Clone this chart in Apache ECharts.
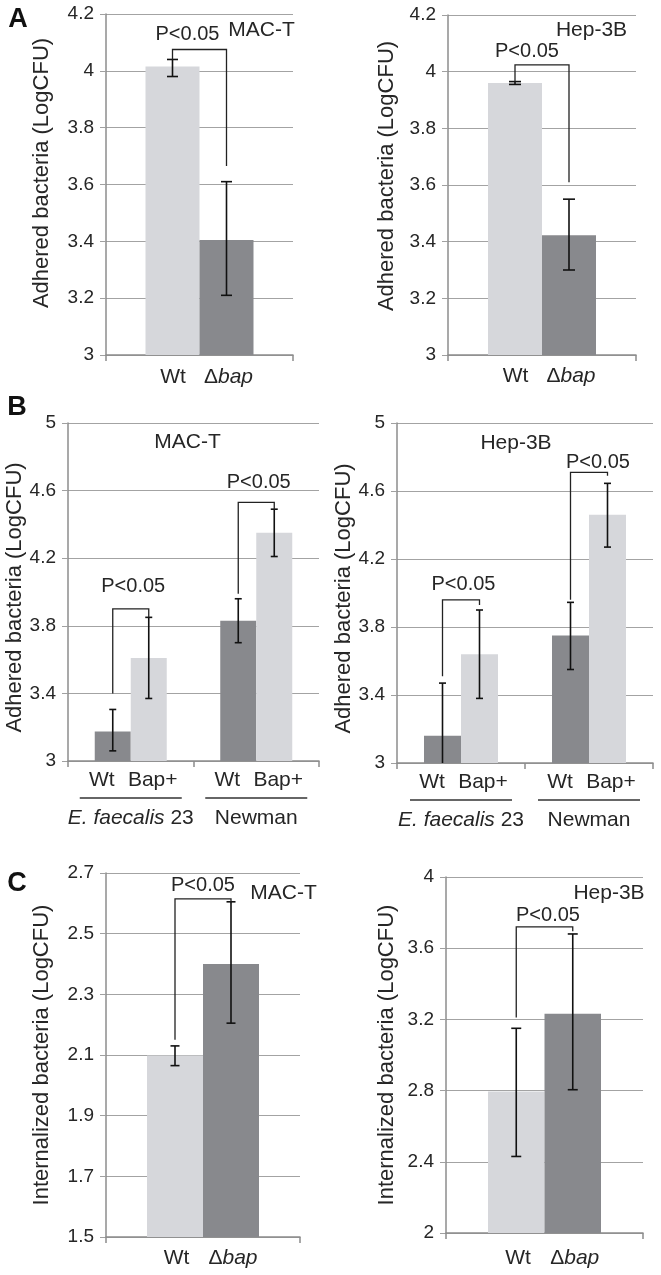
<!DOCTYPE html>
<html><head><meta charset="utf-8">
<script src="https://cdn.jsdelivr.net/npm/echarts@6/dist/echarts.min.js"></script>
<style>html,body{margin:0;padding:0;background:#fff}#c{width:661px;height:1275px}</style>
</head><body><div id="c"></div>
<script>
// ---------------- DATA ----------------
const strainsAC = ['Wt', 'Δbap'];
const strainsB = ['Wt', 'Bap+'];
const groupsB = ['E. faecalis 23', 'Newman'];
const singleCat = [''];

const ticksA = [3, 3.2, 3.4, 3.6, 3.8, 4, 4.2];
const ticksB = [3, 3.4, 3.8, 4.2, 4.6, 5];
const ticksCmac = [1.5, 1.7, 1.9, 2.1, 2.3, 2.5, 2.7];
const ticksChep = [2, 2.4, 2.8, 3.2, 3.6, 4];

// Panel A, MAC-T  (order: Wt, Δbap)
const aMacValues = [4.015, 3.405];
const aMacErrLow = [3.98, 3.21];
const aMacErrHigh = [4.04, 3.61];
const aMacBracket = [4.04, 4.075, 3.665];      // left foot, top, right foot
// Panel A, Hep-3B
const aHepValues = [3.96, 3.423];
const aHepErrLow = [3.955, 3.30];
const aHepErrHigh = [3.965, 3.55];
const aHepBracket = [3.965, 4.024, 3.61];

// Panel B, MAC-T  (per group: E. faecalis 23, Newman)
const bMacWt = [3.175, 3.83];
const bMacWtLow = [3.06, 3.70];
const bMacWtHigh = [3.305, 3.96];
const bMacBap = [3.61, 4.35];
const bMacBapLow = [3.37, 4.21];
const bMacBapHigh = [3.85, 4.49];
const bMacBrackets = [[3.40, 3.90, 3.85], [3.99, 4.53, 4.49]];
// Panel B, Hep-3B
const bHepWt = [3.16, 3.75];
const bHepWtLow = [2.85, 3.55];
const bHepWtHigh = [3.47, 3.945];
const bHepBap = [3.64, 4.46];
const bHepBapLow = [3.38, 4.27];
const bHepBapHigh = [3.90, 4.645];
const bHepBrackets = [[3.51, 3.96, 3.93], [3.96, 4.71, 4.69]];

// Panel C, MAC-T
const cMacValues = [2.098, 2.40];
const cMacErrLow = [2.065, 2.205];
const cMacErrHigh = [2.13, 2.605];
const cMacBracket = [2.15, 2.615, 2.60];
// Panel C, Hep-3B
const cHepValues = [2.795, 3.232];
const cHepErrLow = [2.43, 2.805];
const cHepErrHigh = [3.15, 3.68];
const cHepBracket = [3.21, 3.72, 3.695];

const pLabel = 'P<0.05';
// --------------------------------------

const LIGHT = '#d6d7db', DARK = '#88898d';
const FONT = "'Liberation Sans', Arial, sans-serif";
const TXT = '#262626';

function strainRich(name) {
  if (name.charAt(0) === 'Δ') return '{d|Δ}{i|' + name.slice(1) + '}';
  return name;
}

const panels = [
  { grid: {left:106, top:14, width:187, height:341}, ticks: ticksA, cats: singleCat, bw: 54, cap: 5.5,
    series: [
      {name: strainsAC[0], color: LIGHT, values: [aMacValues[0]], lo: [aMacErrLow[0]], hi: [aMacErrHigh[0]]},
      {name: strainsAC[1], color: DARK, values: [aMacValues[1]], lo: [aMacErrLow[1]], hi: [aMacErrHigh[1]]}],
    brackets: [[0, 0, 1].concat(aMacBracket)], pOff: [[-12, 15]],
    yName: 'Adhered bacteria (LogCFU)', nameGap: 53, namePad: [0,0,0,23], labelMargin: 12, type: 'AC' },
  { grid: {left:448, top:15, width:188, height:340}, ticks: ticksA, cats: singleCat, bw: 54, cap: 6,
    series: [
      {name: strainsAC[0], color: LIGHT, values: [aHepValues[0]], lo: [aHepErrLow[0]], hi: [aHepErrHigh[0]]},
      {name: strainsAC[1], color: DARK, values: [aHepValues[1]], lo: [aHepErrLow[1]], hi: [aHepErrHigh[1]]}],
    brackets: [[0, 0, 1].concat(aHepBracket)], pOff: [[-15, 13]],
    yName: 'Adhered bacteria (LogCFU)', nameGap: 50, namePad: [0,0,0,18], labelMargin: 11, type: 'AC' },
  { grid: {left:68, top:423, width:251, height:338}, ticks: ticksB, cats: groupsB, bw: 36, cap: 3.5,
    series: [
      {name: strainsB[0], color: DARK, values: bMacWt, lo: bMacWtLow, hi: bMacWtHigh},
      {name: strainsB[1], color: LIGHT, values: bMacBap, lo: bMacBapLow, hi: bMacBapHigh}],
    brackets: [[0, 0, 1].concat(bMacBrackets[0]), [1, 0, 1].concat(bMacBrackets[1])], pOff: [[2.5, 22], [2.5, 20]],
    yName: 'Adhered bacteria (LogCFU)', nameGap: 39, namePad: [0,11,0,0], labelMargin: 8, type: 'B' },
  { grid: {left:397, top:423, width:256, height:340}, ticks: ticksB, cats: groupsB, bw: 37, cap: 3.5,
    series: [
      {name: strainsB[0], color: DARK, values: bHepWt, lo: bHepWtLow, hi: bHepWtHigh},
      {name: strainsB[1], color: LIGHT, values: bHepBap, lo: bHepBapLow, hi: bHepBapHigh}],
    brackets: [[0, 0, 1].concat(bHepBrackets[0]), [1, 0, 1].concat(bHepBrackets[1])], pOff: [[2.5, 15], [9, 10]],
    yName: 'Adhered bacteria (LogCFU)', nameGap: 38, namePad: [0,11,0,0], labelMargin: 8, type: 'B' },
  { grid: {left:106, top:873, width:194, height:364}, ticks: ticksCmac, cats: singleCat, bw: 56, cap: 4.5,
    series: [
      {name: strainsAC[0], color: LIGHT, values: [cMacValues[0]], lo: [cMacErrLow[0]], hi: [cMacErrHigh[0]]},
      {name: strainsAC[1], color: DARK, values: [cMacValues[1]], lo: [cMacErrLow[1]], hi: [cMacErrHigh[1]]}],
    brackets: [[0, 0, 1].concat(cMacBracket)], pOff: [[0, 13]],
    yName: 'Internalized bacteria (LogCFU)', nameGap: 53, namePad: [0,0,0,0], labelMargin: 11, type: 'AC' },
  { grid: {left:446, top:877, width:197, height:356}, ticks: ticksChep, cats: singleCat, bw: 56.5, cap: 5,
    series: [
      {name: strainsAC[0], color: LIGHT, values: [cHepValues[0]], lo: [cHepErrLow[0]], hi: [cHepErrHigh[0]]},
      {name: strainsAC[1], color: DARK, values: [cHepValues[1]], lo: [cHepErrLow[1]], hi: [cHepErrHigh[1]]}],
    brackets: [[0, 0, 1].concat(cHepBracket)], pOff: [[3.5, 11]],
    yName: 'Internalized bacteria (LogCFU)', nameGap: 48, namePad: [0,0,0,0], labelMargin: 15, type: 'AC' }
];

const option = {
  animation: false,
  backgroundColor: '#fff',
  textStyle: {fontFamily: FONT, color: TXT},
  grid: [], xAxis: [], yAxis: [], series: [],
  graphic: []
};

panels.forEach((p, i) => {
  option.grid.push(Object.assign({show: false}, p.grid));
  const n = p.series.length;
  let xLabel;
  if (p.type === 'AC') {
    xLabel = {
      show: true, margin: p.labelMargin, fontSize: 21, color: TXT, fontFamily: FONT,
      formatter: () => '{w|' + p.series[0].name + '}{g|}' + strainRich(p.series[1].name),
      rich: {
        w: {width: p.bw, align: 'center', fontSize: 21, color: TXT, fontFamily: FONT},
        g: {width: 4},
        d: {fontSize: 21, color: TXT, fontFamily: FONT},
        i: {fontSize: 21, fontStyle: 'italic', color: TXT, fontFamily: FONT}
      }
    };
  } else {
    xLabel = {
      show: true, margin: p.labelMargin, fontSize: 21, color: TXT, fontFamily: FONT, interval: 0,
      formatter: (v) => {
        const sp = v.indexOf(' 23');
        const name = sp > 0 ? '{i|' + v.slice(0, sp) + '}{n|' + v.slice(sp) + '}' : '{n|' + v + '}';
        return '{w|' + p.series[0].name + '}{b|' + p.series[1].name + '}\n{u|}\n' + name;
      },
      rich: {
        w: {width: 44, align: 'center', fontSize: 21, lineHeight: 22, color: TXT, fontFamily: FONT},
        b: {width: 58, align: 'center', fontSize: 21, lineHeight: 22, color: TXT, fontFamily: FONT},
        u: {width: 102, height: 1.4, lineHeight: 14, backgroundColor: '#333'},
        i: {fontSize: 21, lineHeight: 26, fontStyle: 'italic', color: TXT, fontFamily: FONT},
        n: {fontSize: 21, lineHeight: 26, color: TXT, fontFamily: FONT}
      }
    };
  }
  option.xAxis.push({
    type: 'category', gridIndex: i, data: p.cats,
    axisLine: {show: true, lineStyle: {color: '#8c8c8c', width: 1.5}},
    axisTick: {show: true, length: 6, lineStyle: {color: '#8c8c8c', width: 1.5}},
    axisLabel: xLabel, splitLine: {show: false}
  });
  const t = p.ticks;
  option.yAxis.push({
    type: 'value', gridIndex: i, min: t[0], max: t[t.length - 1],
    interval: +(t[1] - t[0]).toFixed(4),
    name: p.yName, nameLocation: 'middle', nameGap: p.nameGap,
    nameTextStyle: {fontSize: 22, color: TXT, fontFamily: FONT, padding: p.namePad},
    axisLine: {show: true, lineStyle: {color: '#8c8c8c', width: 1.5}},
    axisTick: {show: true, length: 6, lineStyle: {color: '#a0a0a0'}},
    axisLabel: {fontSize: 19, color: TXT, fontFamily: FONT, margin: 12,
      formatter: (v) => String(+v.toFixed(2))},
    splitLine: {show: true, lineStyle: {color: '#a3a3a3', width: 1.2}}
  });
  // bars
  p.series.forEach((s) => {
    option.series.push({
      type: 'bar', name: s.name, xAxisIndex: i, yAxisIndex: i,
      data: s.values, barWidth: p.bw, barGap: '0%',
      itemStyle: {color: s.color}, z: 2
    });
  });
  // error bars
  const errData = [];
  p.series.forEach((s, si) => {
    s.values.forEach((v, ci) => errData.push([ci, si, s.lo[ci], s.hi[ci]]));
  });
  option.series.push({
    type: 'custom', xAxisIndex: i, yAxisIndex: i, clip: true, z: 5,
    encode: {x: 0, y: [2, 3]},
    data: errData,
    renderItem: (params, api) => {
      const ci = api.value(0), si = api.value(1);
      const a = api.coord([ci, api.value(2)]);
      const b = api.coord([ci, api.value(3)]);
      const x = a[0] + (si - (n - 1) / 2) * p.bw;
      const st = {stroke: '#111', lineWidth: 1.6};
      const c = p.cap;
      return {type: 'group', children: [
        {type: 'line', shape: {x1: x, y1: a[1], x2: x, y2: b[1]}, style: st},
        {type: 'line', shape: {x1: x - c, y1: a[1], x2: x + c, y2: a[1]}, style: st},
        {type: 'line', shape: {x1: x - c, y1: b[1], x2: x + c, y2: b[1]}, style: st}
      ]};
    }
  });
  // significance brackets
  option.series.push({
    type: 'custom', xAxisIndex: i, yAxisIndex: i, clip: false, z: 6,
    encode: {x: 0, y: [3, 4, 5]},
    data: p.brackets,
    renderItem: (params, api) => {
      const ci = api.value(0), sl = api.value(1), sr = api.value(2);
      const L = api.coord([ci, api.value(3)]);
      const T = api.coord([ci, api.value(4)]);
      const R = api.coord([ci, api.value(5)]);
      const xl = L[0] + (sl - (n - 1) / 2) * p.bw;
      const xr = L[0] + (sr - (n - 1) / 2) * p.bw;
      const off = p.pOff[params.dataIndex];
      return {type: 'group', children: [
        {type: 'polyline', shape: {points: [[xl, L[1]], [xl, T[1]], [xr, T[1]], [xr, R[1]]]},
          style: {stroke: '#222', lineWidth: 1.3, fill: null}},
        {type: 'text', x: (xl + xr) / 2 + off[0], y: T[1] - off[1],
          style: {text: pLabel, fill: TXT, font: '20px ' + FONT, textAlign: 'center', textVerticalAlign: 'middle'}}
      ]};
    }
  });
});

// panel letters and cell-line labels
const letters = [['A', 18, 20], ['B', 17, 408], ['C', 17, 884]];
letters.forEach(l => option.graphic.push({type: 'text', x: l[1], y: l[2],
  style: {text: l[0], fill: '#111', font: 'bold 27px ' + FONT, textAlign: 'center', textVerticalAlign: 'middle'}}));
const cellLabels = [['MAC-T', 261.5, 30], ['Hep-3B', 591.5, 30], ['MAC-T', 187.5, 442], ['Hep-3B', 516, 443], ['MAC-T', 283.5, 893], ['Hep-3B', 609, 893]];
cellLabels.forEach(l => option.graphic.push({type: 'text', x: l[1], y: l[2],
  style: {text: l[0], fill: TXT, font: '21px ' + FONT, textAlign: 'center', textVerticalAlign: 'middle'}}));

const chart = echarts.init(document.getElementById('c'), null, {renderer: 'canvas'});
chart.setOption(option);
</script></body></html>
